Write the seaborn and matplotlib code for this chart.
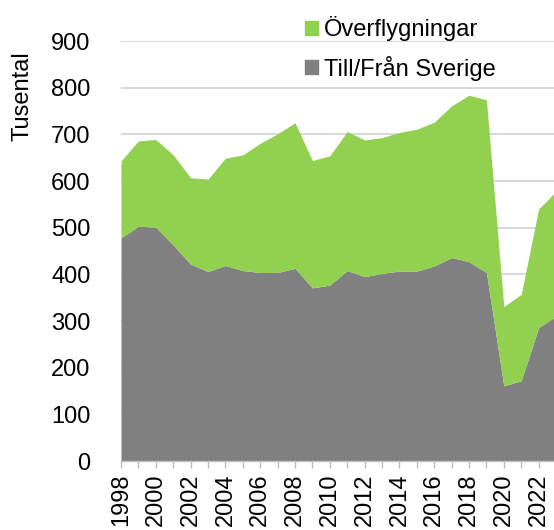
import numpy as np
import seaborn as sns
import matplotlib.pyplot as plt
from matplotlib.patches import Patch

# Data (tusental)
years = list(range(1998, 2024))
total = [643, 686, 689, 656, 607, 604, 649, 656, 681, 701, 725, 644, 654,
         706, 688, 693, 704, 711, 726, 761, 784, 774, 331, 357, 540, 578]
till_fran_sverige = [478, 503, 501, 463, 422, 406, 419, 408, 404, 404, 413, 371, 377,
                     408, 395, 402, 407, 407, 418, 436, 427, 404, 161, 172, 286, 310]
overflygningar = [t - s for t, s in zip(total, till_fran_sverige)]

GREY = "#808080"
GREEN = "#92D050"


def main():
    sns.set_theme(style="white", rc={"text.color": "black",
                                     "xtick.color": "black",
                                     "ytick.color": "black"})
    plt.rcParams["font.family"] = ["Liberation Sans", "DejaVu Sans"]

    fig = plt.figure(figsize=(5.54, 5.30), dpi=100)
    ax = fig.add_axes([121 / 554, 69 / 530, 435 / 554, 420 / 530])

    ax.stackplot(years, till_fran_sverige, overflygningar,
                 colors=[GREY, GREEN], linewidth=0, zorder=2)

    ax.set_xlim(1998, 2023)
    ax.set_ylim(0, 900)
    ax.set_yticks(range(0, 1000, 100))
    ax.yaxis.grid(True, color="#D9D9D9", linewidth=1.5, zorder=0)
    ax.set_axisbelow(True)
    ax.tick_params(axis="y", length=0, labelsize=17, pad=22, labelcolor="black")

    ax.set_xticks(years, minor=True)
    ax.set_xticks(years[::2])
    ax.set_xticklabels([str(y) for y in years[::2]], rotation=90)
    ax.tick_params(axis="x", which="both", direction="out", length=5,
                   color="#BFBFBF", width=1, bottom=True)
    ax.tick_params(axis="x", labelsize=17, pad=4, labelcolor="black")

    sns.despine(ax=ax, left=True, top=True, right=True)
    ax.spines["bottom"].set_color("#BFBFBF")
    ax.spines["bottom"].set_linewidth(1)

    fig.text(23 / 554, 1 - 96 / 530, "Tusental", rotation=90,
             ha="center", va="center", fontsize=17, color="black")

    handles = [Patch(color=GREEN), Patch(color=GREY)]
    fig.legend(handles, ["Överflygningar", "Till/Från Sverige"],
               loc="upper left", bbox_to_anchor=(296 / 554, 1 - 7 / 530),
               frameon=False, fontsize=17, handlelength=0.55, handleheight=0.55,
               handletextpad=0.25, labelspacing=0.6, borderaxespad=0,
               labelcolor="black")

    fig.savefig("out.png", dpi=100)


if __name__ == "__main__":
    main()
